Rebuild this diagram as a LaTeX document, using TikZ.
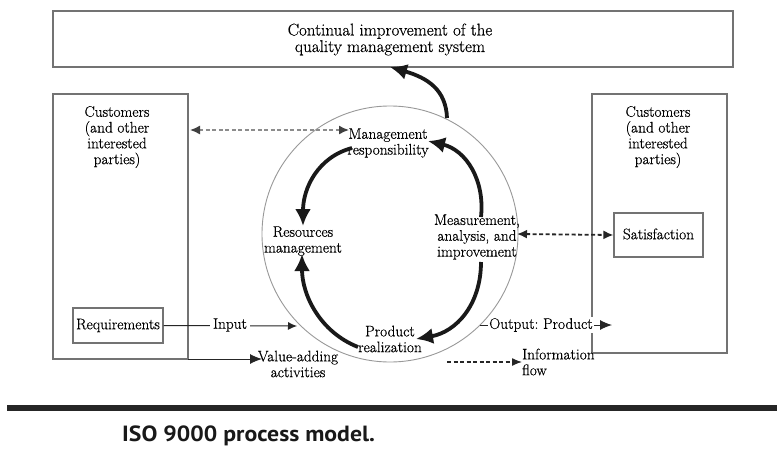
\documentclass[tikz,border=0pt]{standalone}
\usepackage{fontspec}
\newfontfamily\capfont{PT Sans}[FakeStretch=1.08]
\newfontfamily\diagfont{Latin Modern Roman}[FakeBold=0.5]
\usetikzlibrary{arrows.meta}
\frenchspacing
\begin{document}
\begin{tikzpicture}[x=1pt,y=-1pt,
  txt/.style={font=\diagfont\fontsize{15.3}{15.8}\selectfont, align=center, inner sep=0pt, text=black},
  frame/.style={draw=black!55, line width=1.1pt},
  loop/.style={line width=3.8pt, draw=black!90, -{Latex[length=17pt,width=16pt]}},
  thin/.style={line width=1pt, draw=black!85, -{Latex[length=9pt,width=8pt]}},
  dsh/.style={line width=1.5pt, dashed, dash pattern=on 4pt off 2.5pt},
]
\useasboundingbox (0,0) rectangle (780,450);
\fill[white] (0,0) rectangle (780,450);

% top box
\node[frame, minimum width=680pt, minimum height=56pt, inner sep=0pt] (top) at (393,39) {};
\node[txt, font=\diagfont\fontsize{17}{16.5}\selectfont] (toptxt) at (390,39.5) {Continual improvement of the\\quality management system};

% left customers box
\draw[frame] (53,94) rectangle (188,359);
\coordinate (lbr) at (188,359);
\node[txt] (lcust) at (117,137) {Customers\\(and other\\interested\\parties)};
\node[frame, minimum width=90pt, minimum height=35pt, inner sep=0pt] (req) at (118,325.5) {};
\node[txt] (reqt) at (118,325.5) {Requirements};

% right customers box
\draw[frame] (592,94) rectangle (727,353);
\node[txt] (rcust) at (658,137) {Customers\\(and other\\interested\\parties)};
\node[frame, minimum width=89pt, minimum height=44pt, inner sep=0pt] (sat) at (658.5,235) {};
\node[txt] (satt) at (658.5,234) {Satisfaction};

% big circle
\draw[draw=black!40, line width=0.9pt] (390,234) circle (128);

% process texts
\node[txt] (mr) at (388,143) {Management\\responsibility};
\node[txt] (rm) at (303,241) {Resources\\management};
\node[txt] (mai) at (477,237) {Measurement,\\analysis, and\\improvement};
\node[txt] (pr) at (390,339) {Product\\realization};

% inner loop arrows
\coordinate (a1s) at (352,148); \coordinate (a1e) at (303,226);
\coordinate (a2s) at (358,347); \coordinate (a2e) at (302,254);
\coordinate (a3s) at (481,217); \coordinate (a3e) at (428,141);
\coordinate (a4s) at (481,262); \coordinate (a4e) at (416,339);
\draw[loop] (a1s) .. controls (318,157) and (303,188) .. (a1e);
\draw[loop] (a2s) .. controls (320,332) and (302,295) .. (a2e);
\draw[loop] (a3s) .. controls (485,180) and (466,150) .. (a3e);
\draw[loop] (a4s) .. controls (481,305) and (456,332) .. (a4e);

% curved arrow to top box
\coordinate (cs) at (447,118);
\coordinate (ce) at (390,67);
\draw[loop] (cs) .. controls (446,90) and (428,78) .. (ce);

% dashed arrows
\coordinate (d1a) at (190,130); \coordinate (d1b) at (349,130);
\draw[dsh, draw=black!45, {Latex[length=10pt,width=9pt,color=black!75]}-{Latex[length=10pt,width=9pt,color=black!75]}] (d1a) -- (d1b);
\coordinate (d2a) at (517,234);
\draw[dsh, line width=1.8pt, draw=black!85, {Latex[length=10pt,width=9pt]}-{Latex[length=10pt,width=9pt]}] (d2a) -- (sat.west);

% input
\coordinate (inend) at (297,326);
\draw[thin] (req.east) -- (inend);
\node[txt, fill=white, inner xsep=3pt, inner ysep=1pt] (inp) at (230,325) {Input};

% value-adding
\coordinate (vae) at (262,359);
\draw[thin, -{Latex[length=12pt,width=10pt]}] (lbr) -- (vae);
\node[txt] (va) at (298,364) {Value-adding\\activities};

% output
\coordinate (os) at (480,325); \coordinate (oe) at (612,325);
\draw[thin, -{Latex[length=12pt,width=10pt]}] (os) -- (oe);
\node[txt, fill=white, inner xsep=1pt, inner ysep=1pt] (outp) at (541,325) {Output: Product};

% information flow
\coordinate (ifs) at (447,362);
\node[txt, anchor=west, align=left] (inf) at (522,362) {Information\\flow};
\draw[dsh, line width=1.3pt, draw=black!85, -{Latex[length=10pt,width=8pt]}] (ifs) -- (inf.west);

% bottom rule and caption
\fill[black!85] (7,405) rectangle (777,411);
\node[anchor=west, inner sep=0pt, font=\capfont\bfseries\fontsize{22}{24}\selectfont, text=black!90] (cap) at (122,436) {ISO 9000 process model.};
\end{tikzpicture}
\end{document}
